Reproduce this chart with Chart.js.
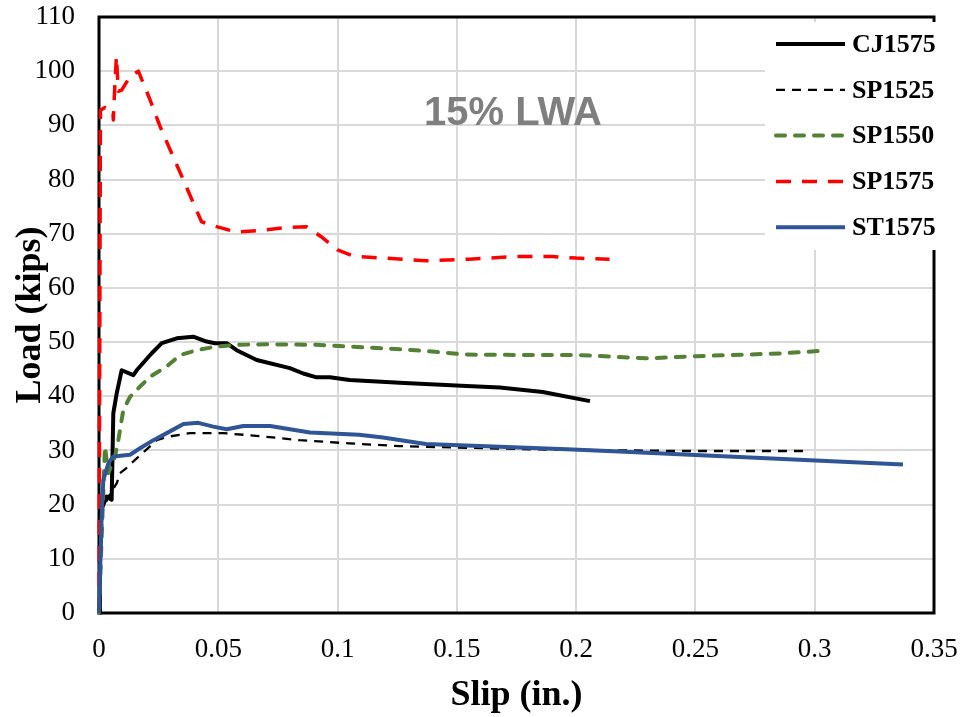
<!DOCTYPE html>
<html>
<head>
<meta charset="utf-8">
<script src="https://cdn.jsdelivr.net/npm/chart.js@4.4.1/dist/chart.umd.min.js"></script>
<style>
  html, body { margin: 0; padding: 0; background: #fff; }
  #wrap { width: 962px; height: 717px; }
</style>
</head>
<body>
<div id="wrap"><canvas id="slipChart" width="962" height="717"></canvas></div>
<script>
var seriesNames = ['CJ1575', 'SP1525', 'SP1550', 'SP1575', 'ST1575'];

var cj1575Slip = [0, 0.0004, 0.0032, 0.0053, 0.006, 0.0074, 0.0095, 0.0144, 0.0158, 0.022, 0.0263, 0.0326, 0.0395, 0.0451, 0.0486, 0.0535, 0.0577, 0.0661, 0.080, 0.0856, 0.0912, 0.0968, 0.105, 0.126, 0.154, 0.168, 0.186, 0.2058];
var cj1575Load = [0, 18.4, 21.5, 20.9, 36.9, 40.5, 44.8, 43.9, 44.8, 47.9, 49.8, 50.7, 51.0, 50.1, 49.8, 49.8, 48.5, 46.7, 45.2, 44.2, 43.5, 43.5, 43.0, 42.5, 41.9, 41.6, 40.8, 39.1];

var sp1525Slip = [0, 0.0015, 0.004, 0.0075, 0.0088, 0.0116, 0.0137, 0.0242, 0.0284, 0.0381, 0.052, 0.066, 0.084, 0.105, 0.126, 0.154, 0.182, 0.2435, 0.298];
var sp1525Load = [0, 19.0, 21.5, 24.0, 25.8, 26.8, 27.7, 31.9, 32.5, 33.2, 33.2, 32.7, 31.9, 31.3, 30.8, 30.5, 30.2, 29.9, 29.9];

var sp1550Slip = [0, 0.0012, 0.0025, 0.0039, 0.0067, 0.0081, 0.0102, 0.013, 0.0172, 0.0214, 0.0284, 0.034, 0.041, 0.0493, 0.059, 0.07, 0.091, 0.112, 0.133, 0.154, 0.182, 0.2016, 0.2295, 0.2505, 0.2854, 0.3036];
var sp1550Load = [0, 15.0, 30.7, 25.8, 28.9, 31.9, 37.5, 39.9, 41.8, 43.6, 45.5, 47.6, 48.5, 49.2, 49.5, 49.6, 49.5, 49.0, 48.5, 47.7, 47.6, 47.6, 47.0, 47.4, 47.9, 48.4];

var sp1575Slip = [0, 0.0006, 0.0025, 0.0058, 0.006, 0.0066, 0.0073, 0.0081, 0.0095, 0.013, 0.0165, 0.0214, 0.0256, 0.0305, 0.0354, 0.0402, 0.043, 0.0493, 0.0577, 0.067, 0.080, 0.087, 0.093, 0.100, 0.107, 0.120, 0.137, 0.155, 0.175, 0.190, 0.200, 0.214];
var sp1575Load = [0, 92.8, 93.3, 92.8, 91.0, 97.0, 102.7, 96.3, 96.5, 99.0, 100.0, 94.7, 89.8, 84.8, 79.9, 75.0, 72.2, 71.3, 70.3, 70.6, 71.2, 71.3, 69.5, 67.0, 65.8, 65.5, 65.0, 65.3, 65.8, 65.8, 65.5, 65.3];

var st1575Slip = [0, 0.0011, 0.0018, 0.0039, 0.006, 0.013, 0.0172, 0.0228, 0.0284, 0.0354, 0.0416, 0.0479, 0.0535, 0.0605, 0.0717, 0.0884, 0.109, 0.119, 0.137, 0.168, 0.196, 0.218, 0.337];
var st1575Load = [0, 17.8, 24.5, 27.6, 28.9, 29.2, 30.4, 31.9, 33.2, 34.9, 35.1, 34.4, 33.9, 34.5, 34.5, 33.3, 32.9, 32.4, 31.2, 30.7, 30.2, 29.8, 27.4];

var xTicks = [0, 0.05, 0.1, 0.15, 0.2, 0.25, 0.3, 0.35];
var yTicks = [0, 10, 20, 30, 40, 50, 60, 70, 80, 90, 100, 110];

var annotationText = '15% LWA';

function toPoints(xs, ys) {
    return xs.map(function (x, i) { return { x: x, y: ys[i] }; });
}

var serif = "'Liberation Serif', 'Times New Roman', serif";

// frame round the plot area, drawn under the lines
var framePlugin = {
    id: 'frame',
    beforeDatasetsDraw: function (chart) {
        var a = chart.chartArea, ctx = chart.ctx;
        ctx.save();
        ctx.strokeStyle = '#000';
        ctx.lineWidth = 3;
        ctx.strokeRect(a.left, a.top, a.right - a.left, a.bottom - a.top);
        ctx.restore();
    }
};

// label in the middle and the boxed legend at the top right
var overlayPlugin = {
    id: 'overlay',
    afterDraw: function (chart) {
        var ctx = chart.ctx;
        ctx.save();
        ctx.font = "bold 40px 'Liberation Sans', Arial, sans-serif";
        ctx.fillStyle = '#7f7f7f';
        ctx.textAlign = 'center';
        ctx.textBaseline = 'middle';
        ctx.fillText(annotationText, 513, 114);

        ctx.fillStyle = '#fff';
        ctx.fillRect(765, 22, 190, 228);
        ctx.font = 'bold 26px ' + serif;
        ctx.textAlign = 'left';
        chart.data.datasets.forEach(function (ds, i) {
            var y = 44 + i * 45.8;
            ctx.beginPath();
            ctx.strokeStyle = ds.borderColor;
            ctx.lineWidth = ds.borderWidth;
            ctx.lineCap = ds.borderCapStyle || 'butt';
            ctx.setLineDash(ds.borderDash || []);
            ctx.moveTo(776, y);
            ctx.lineTo(845, y);
            ctx.stroke();
            ctx.setLineDash([]);
            ctx.fillStyle = '#000';
            ctx.fillText(ds.label, 852, y + 1);
        });
        ctx.restore();
    }
};

function noEdgePadding(scale) {
    scale.paddingTop = 0;
    scale.paddingBottom = 0;
    scale.paddingLeft = 0;
    scale.paddingRight = 0;
}

var ctx = document.getElementById('slipChart').getContext('2d');
new Chart(ctx, {
    type: 'scatter',
    data: {
        datasets: [
            { label: seriesNames[0], data: toPoints(cj1575Slip, cj1575Load), borderColor: '#000000', borderWidth: 4, order: 5 },
            { label: seriesNames[1], data: toPoints(sp1525Slip, sp1525Load), borderColor: '#000000', borderWidth: 2.3, borderDash: [9, 7], order: 4 },
            { label: seriesNames[2], data: toPoints(sp1550Slip, sp1550Load), borderColor: '#548235', borderWidth: 4, borderDash: [9, 10], borderCapStyle: 'round', order: 3 },
            { label: seriesNames[3], data: toPoints(sp1575Slip, sp1575Load), borderColor: '#ff0000', borderWidth: 3.5, borderDash: [15, 11], order: 2 },
            { label: seriesNames[4], data: toPoints(st1575Slip, st1575Load), borderColor: '#2f5597', borderWidth: 4, order: 1 }
        ].map(function (ds) {
            ds.showLine = true;
            ds.pointRadius = 0;
            ds.pointHoverRadius = 0;
            ds.tension = 0;
            ds.fill = false;
            ds.clip = false;
            ds.borderJoinStyle = 'round';
            return ds;
        })
    },
    options: {
        responsive: false,
        animation: false,
        layout: { padding: { top: 17, right: 28, left: 0, bottom: 0 } },
        plugins: {
            legend: { display: false },
            tooltip: { enabled: false }
        },
        scales: {
            x: {
                type: 'linear',
                min: 0,
                max: 0.35,
                afterBuildTicks: function (scale) {
                    scale.ticks = xTicks.map(function (v) { return { value: v }; });
                },
                afterFit: function (scale) { scale.height = 104; noEdgePadding(scale); },
                ticks: {
                    padding: 21,
                    color: '#000',
                    font: { family: serif, size: 27 },
                    maxRotation: 0,
                    callback: function (v) { return String(v); }
                },
                grid: { color: '#d9d9d9', lineWidth: 2, drawTicks: false },
                border: { display: false },
                title: {
                    display: true,
                    text: 'Slip (in.)',
                    color: '#000',
                    font: { family: serif, size: 36, weight: 'bold' },
                    padding: { top: 0, bottom: 0 }
                }
            },
            y: {
                type: 'linear',
                min: 0,
                max: 110,
                afterBuildTicks: function (scale) {
                    scale.ticks = yTicks.map(function (v) { return { value: v }; });
                },
                afterFit: function (scale) { scale.width = 99; noEdgePadding(scale); },
                ticks: {
                    padding: 24,
                    color: '#000',
                    font: { family: serif, size: 27 },
                    callback: function (v) { return String(v); }
                },
                grid: { color: '#d9d9d9', lineWidth: 2, drawTicks: false },
                border: { display: false },
                title: {
                    display: true,
                    text: 'Load (kips)',
                    color: '#000',
                    font: { family: serif, size: 36, weight: 'bold' },
                    padding: { top: 9, bottom: 0 }
                }
            }
        }
    },
    plugins: [framePlugin, overlayPlugin]
});
</script>
</body>
</html>
